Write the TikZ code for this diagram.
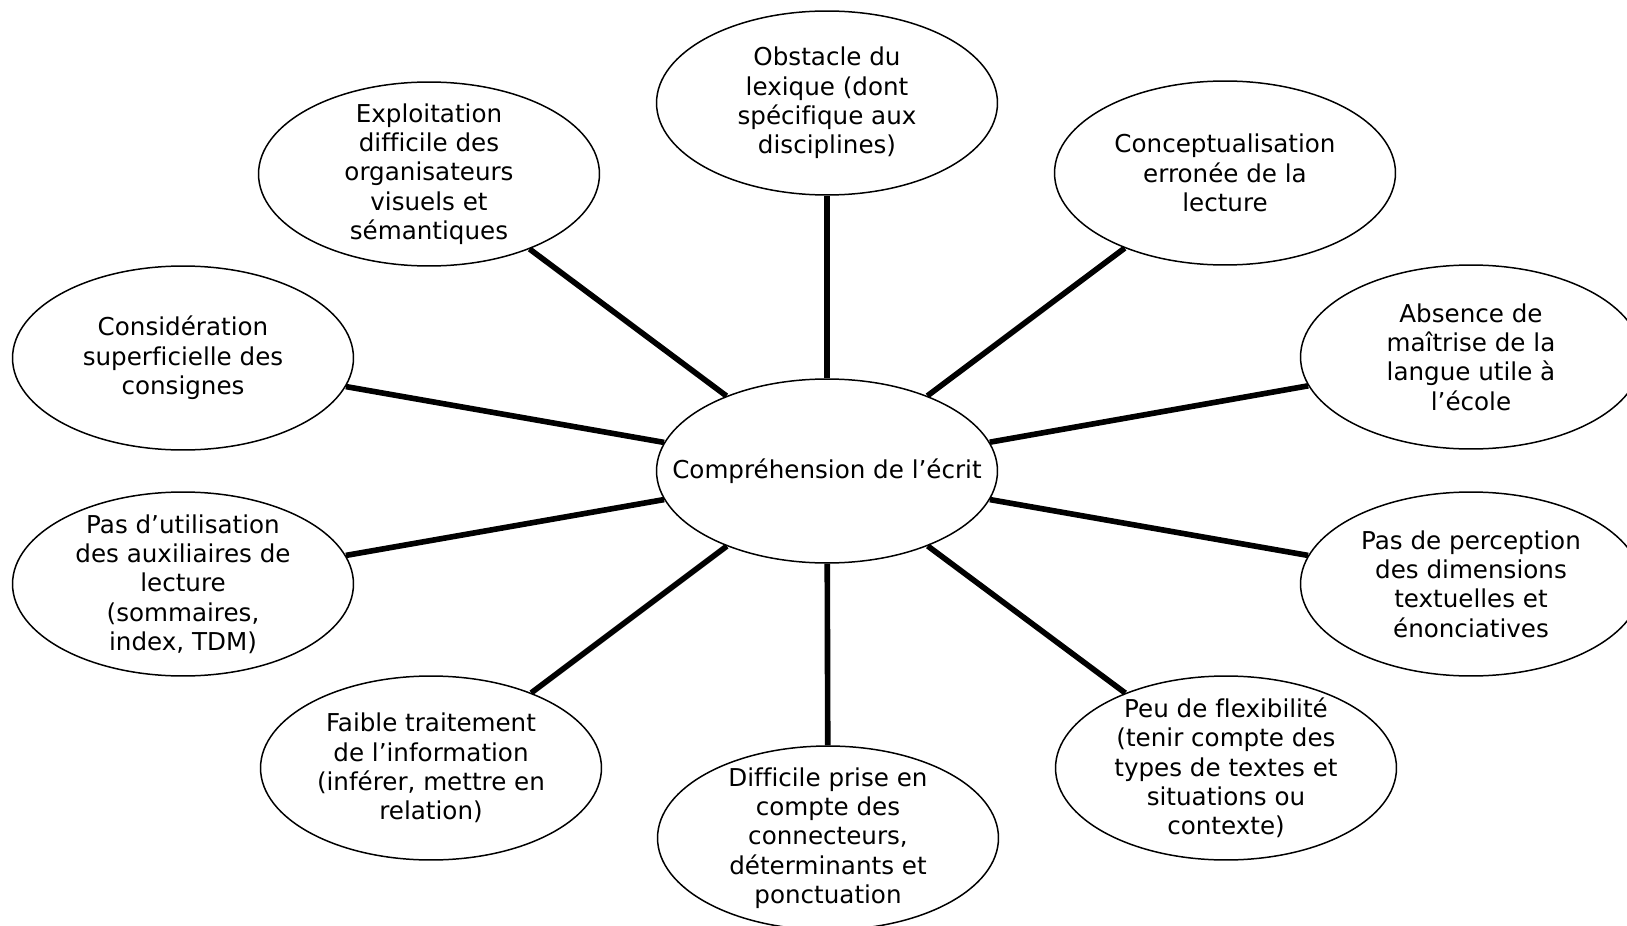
\documentclass[tikz,border=0pt]{standalone}
\usepackage{fontspec}
\setmainfont{DejaVu Sans}[Ligatures=NoCommon]
\usetikzlibrary{shapes.geometric}

\begin{document}
\begin{tikzpicture}[x=0.02cm, y=-0.02cm, line width=0.85pt,
        main/.style = {draw, ellipse, align=center, minimum width=6.82cm, minimum height=3.68cm,
            inner sep=-1cm, font=\fontsize{14}{16.7}\selectfont},
        link/.style = {line width=3.2pt}]
    \useasboundingbox (0,0) rectangle (1627,926);
        \node[main] (0) at (827,471) {Compréhension de l’écrit};
        \node[main] (1) at (827,103) {Obstacle du\\lexique (dont\\spécifique aux\\disciplines)};
        \node[main] (2) at (1225,173) {Conceptualisation\\erronée de la\\lecture};
        \node[main] (3) at (1471,357) {Absence de\\maîtrise de la\\langue utile à\\l’école};
        \node[main] (4) at (1471,584) {Pas de perception\\des dimensions\\textuelles et\\énonciatives};
        \node[main] (5) at (1226,768) {Peu de flexibilité\\(tenir compte des\\types de textes et\\situations ou\\contexte)};
        \node[main] (6) at (828,838) {Difficile prise en\\compte des\\connecteurs,\\déterminants et\\ponctuation};
        \node[main] (7) at (431,768) {Faible traitement\\de l’information\\(inférer, mettre en\\relation)};
        \node[main] (8) at (183,584) {Pas d’utilisation\\des auxiliaires de\\lecture\\(sommaires,\\index, TDM)};
        \node[main] (9) at (183,358) {Considération\\superficielle des\\consignes};
        \node[main] (10) at (429,174) {Exploitation\\difficile des\\organisateurs\\visuels et\\sémantiques};
    
        \path[link] (0) edge (1) edge (2) edge (3) edge (4) edge (5)
            edge (6) edge (7) edge (8) edge (9) edge (10);
    
    \end{tikzpicture}
\end{document}
